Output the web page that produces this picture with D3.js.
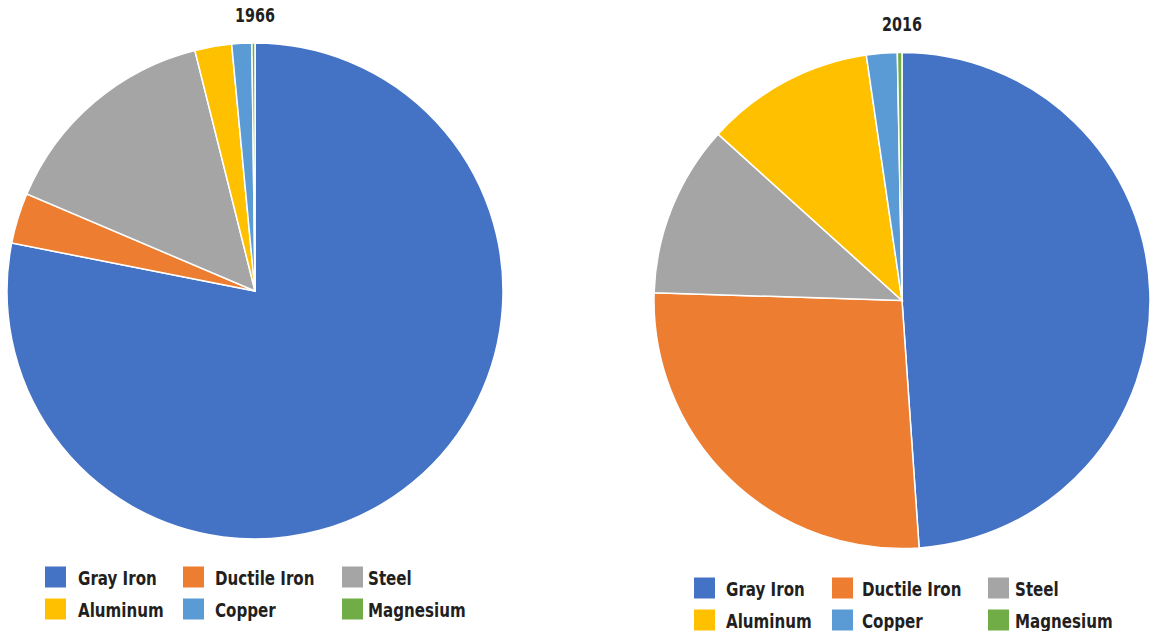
<!DOCTYPE html>
<html>
<head>
<meta charset="utf-8">
<script src="https://cdn.jsdelivr.net/npm/d3@7"></script>
<style>
  body { margin: 0; background: #fff; }
  svg text { font-family: "DejaVu Sans Condensed", "DejaVu Sans", Arial, sans-serif; font-weight: bold; fill: #231f20; }
</style>
</head>
<body>
<svg id="chart" width="1152" height="631"></svg>
<script>
// metals and their share of castings (percent)
const metals = ["Gray Iron", "Ductile Iron", "Steel", "Aluminum", "Copper", "Magnesium"];
const colors = ["#4472C4", "#ED7D31", "#A5A5A5", "#FFC000", "#5B9BD5", "#70AD47"];
const share1966 = [78.1, 3.3, 14.7, 2.4, 1.3, 0.2];
const share2016 = [48.9, 26.6, 11.2, 11.0, 2.0, 0.3];

const svg = d3.select("#chart");
const color = d3.scaleOrdinal().domain(metals).range(colors);

const pie = d3.pie().sort(null).value(d => d.value);

// condensed look: squeeze text horizontally around its x position
const squeeze = 0.84;
function addText(x, y, str, size, anchor = "start") {
    return svg.append("text")
        .attr("transform", `translate(${x},${y}) scale(${squeeze},1)`)
        .attr("text-anchor", anchor)
        .attr("dominant-baseline", "central")
        .attr("font-size", size)
        .text(str);
}

// one pie with its title and legend
function drawPie({ title, values, cx, cy, r, titleY, legend }) {
    const data = metals.map((m, i) => ({ name: m, value: values[i] }));
    const arc = d3.arc().innerRadius(0).outerRadius(r);

    const g = svg.append("g").attr("transform", `translate(${cx},${cy})`);
    g.selectAll("path")
        .data(pie(data))
        .join("path")
        .attr("d", arc)
        .attr("fill", d => color(d.data.name))
        .attr("stroke", "#fff")
        .attr("stroke-width", 1.5);

    addText(cx, titleY, title, "19px", "middle");

    // legend: 3 columns x 2 rows
    metals.forEach((m, i) => {
        const col = i % 3, row = Math.floor(i / 3);
        const x = legend.cols[col], y = legend.rows[row];
        svg.append("rect")
            .attr("x", x)
            .attr("y", y - 10.5)
            .attr("width", 21)
            .attr("height", 21)
            .attr("fill", color(m));
        addText(x + legend.textGap[col], y + 1, m, "20px");
    });
}

drawPie({
    title: "1966", values: share1966, cx: 255, cy: 291, r: 248, titleY: 16,
    legend: { cols: [45, 183, 342], rows: [577, 609], textGap: [33, 32, 26] }
});

drawPie({
    title: "2016", values: share2016, cx: 902, cy: 300.5, r: 248, titleY: 25,
    legend: { cols: [694, 832, 988], rows: [588, 620], textGap: [32, 30, 27] }
});
</script>
</body>
</html>
